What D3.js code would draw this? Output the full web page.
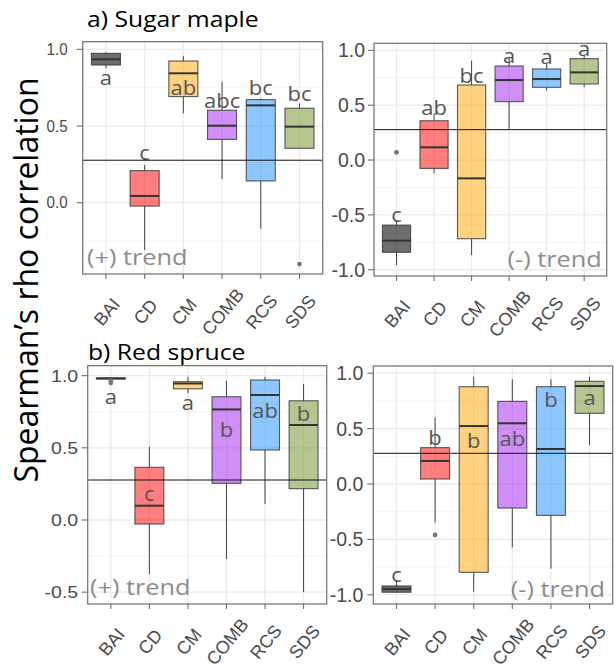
<!DOCTYPE html>
<html>
<head>
<meta charset="utf-8">
<script src="https://cdn.jsdelivr.net/npm/d3@7"></script>
<style>
  body { margin: 0; background: #fff; }
</style>
</head>
<body>
<div class="chart"></div>
<script>
// DATA ------------------------------------
const categories = ["BAI", "CD", "CM", "COMB", "RCS", "SDS"];
const boxColors = ["#000000", "#FF0000", "#FFA500", "#A020F0", "#1E90FF", "#6B8E23"];
const refValue = 0.277;

// each box: [lower whisker, q1, median, q3, upper whisker]
const mapleUpBoxes = [
  [0.877, 0.898, 0.935, 0.974, 0.981],
  [-0.309, -0.022, 0.044, 0.209, 0.246],
  [0.583, 0.692, 0.844, 0.924, 0.957],
  [0.153, 0.413, 0.502, 0.603, 0.789],
  [-0.170, 0.142, 0.635, 0.672, 0.680],
  [0.355, 0.355, 0.496, 0.616, 0.648]
];
const mapleUpOutliers = [[], [], [], [], [], [-0.40]];
const mapleUpLetters = ["a", "c", "ab", "abc", "bc", "bc"];
const mapleUpLetterY = [0.768, 0.279, 0.703, 0.616, 0.703, 0.663];
const mapleUpTicks = [0, 0.5, 1];
const mapleUpDomain = [-0.465, 1.05];

const mapleDownBoxes = [
  [-0.957, -0.841, -0.735, -0.593, -0.547],
  [-0.121, -0.076, 0.116, 0.358, 0.426],
  [-0.866, -0.717, -0.167, 0.684, 0.905],
  [0.283, 0.532, 0.729, 0.857, 0.936],
  [0.632, 0.663, 0.738, 0.830, 0.881],
  [0.663, 0.693, 0.799, 0.924, 0.957]
];
const mapleDownOutliers = [[0.070], [], [], [], [], []];
const mapleDownLetters = ["c", "ab", "bc", "a", "a", "a"];
const mapleDownLetterY = [-0.562, 0.41, 0.705, 0.881, 0.872, 0.948];
const mapleDownTicks = [-1, -0.5, 0, 0.5, 1];
const mapleDownDomain = [-1.057, 1.064];

const spruceUpBoxes = [
  [0.975, 0.978, 0.981, 0.984, 0.990],
  [-0.376, -0.028, 0.099, 0.365, 0.508],
  [0.877, 0.909, 0.946, 0.958, 0.992],
  [-0.270, 0.254, 0.766, 0.854, 0.965],
  [0.111, 0.485, 0.866, 0.970, 0.992],
  [-0.500, 0.217, 0.658, 0.826, 0.942]
];
const spruceUpOutliers = [[0.965, 0.95], [], [], [], [], []];
const spruceUpLetters = ["a", "c", "a", "b", "ab", "b"];
const spruceUpLetterY = [0.803, 0.134, 0.762, 0.577, 0.704, 0.688];
const spruceUpTicks = [-0.5, 0, 0.5, 1];
const spruceUpDomain = [-0.582, 1.069];

const spruceDownBoxes = [
  [-0.980, -0.977, -0.948, -0.920, -0.873],
  [-0.349, 0.045, 0.208, 0.328, 0.602],
  [-0.972, -0.797, 0.523, 0.878, 0.968],
  [-0.572, -0.217, 0.548, 0.746, 0.945],
  [-0.764, -0.283, 0.316, 0.878, 0.945],
  [0.352, 0.638, 0.884, 0.927, 0.968]
];
const spruceDownOutliers = [[], [-0.46], [], [], [], []];
const spruceDownLetters = ["c", "b", "b", "ab", "b", "a"];
const spruceDownLetterY = [-0.882, 0.352, 0.322, 0.343, 0.692, 0.713];
const spruceDownTicks = [-1, -0.5, 0, 0.5, 1];
const spruceDownDomain = [-1.083, 1.065];

// CHART INIT ------------------------------
const W = 616, H = 668;
const svg = d3.select(".chart").append("svg")
    .attr("width", W)
    .attr("height", H);

const textFont = "'Open Sans', sans-serif";
const tickFont = "'Liberation Sans', Arial, sans-serif";

// panel layout (pixels) and the data each one uses
const panels = [
  {x0: 82.7, x1: 322.7, y0: 41.7, y1: 274, tickSize: 16, tickSx: 0.95, tickGap: 15,
   boxes: mapleUpBoxes, outliers: mapleUpOutliers, letters: mapleUpLetters, letterY: mapleUpLetterY,
   ticks: mapleUpTicks, domain: mapleUpDomain, trend: "(+) trend", trendX: 87, trendY: 265, trendAnchor: "start"},
  {x0: 374, x1: 606.7, y0: 43.3, y1: 276, tickSize: 19.5, tickSx: 1, tickGap: 9,
   boxes: mapleDownBoxes, outliers: mapleDownOutliers, letters: mapleDownLetters, letterY: mapleDownLetterY,
   ticks: mapleDownTicks, domain: mapleDownDomain, trend: "(-) trend", trendX: 601.7, trendY: 266.7, trendAnchor: "end"},
  {x0: 87.7, x1: 326.7, y0: 365.7, y1: 604, tickSize: 17, tickSx: 1.15, tickGap: 9.5,
   boxes: spruceUpBoxes, outliers: spruceUpOutliers, letters: spruceUpLetters, letterY: spruceUpLetterY,
   ticks: spruceUpTicks, domain: spruceUpDomain, trend: "(+) trend", trendX: 90, trendY: 595, trendAnchor: "start"},
  {x0: 373.3, x1: 612.7, y0: 366, y1: 604, tickSize: 19.5, tickSx: 1, tickGap: 10,
   boxes: spruceDownBoxes, outliers: spruceDownOutliers, letters: spruceDownLetters, letterY: spruceDownLetterY,
   ticks: spruceDownTicks, domain: spruceDownDomain, trend: "(-) trend", trendX: 605, trendY: 596.7, trendAnchor: "end"}
];

function stretchText(sel, x, y, sx) {
    sel.attr("transform", "translate(" + x + "," + y + ") scale(" + sx + ",1)");
}

// DRAW ONE PANEL --------------------------
function drawPanel(p) {
    const g = svg.append("g");

    const xScale = d3.scalePoint()
        .domain(categories)
        .range([p.x0, p.x1])
        .padding(0.6);
    const step = xScale.step();
    const bw = step * 0.75;

    const yScale = d3.scaleLinear()
        .domain(p.domain)
        .range([p.y1, p.y0]);

    // minor grid at half steps
    const half = (p.ticks[1] - p.ticks[0]) / 2;
    const minor = d3.range(p.ticks[0] - half, p.ticks[p.ticks.length - 1] + half + 1e-9, half * 2)
        .filter(v => v > p.domain[0] && v < p.domain[1]);

    g.append("rect")
        .attr("x", p.x0).attr("y", p.y0)
        .attr("width", p.x1 - p.x0).attr("height", p.y1 - p.y0)
        .attr("fill", "#fff");

    g.selectAll(".minor")
        .data(minor)
        .enter().append("line")
        .attr("x1", p.x0).attr("x2", p.x1)
        .attr("y1", d => yScale(d)).attr("y2", d => yScale(d))
        .attr("stroke", "#f3f3f3").attr("stroke-width", 0.8);

    g.selectAll(".hgrid")
        .data(p.ticks)
        .enter().append("line")
        .attr("x1", p.x0).attr("x2", p.x1)
        .attr("y1", d => yScale(d)).attr("y2", d => yScale(d))
        .attr("stroke", "#ebebeb").attr("stroke-width", 1.3);

    g.selectAll(".vgrid")
        .data(categories)
        .enter().append("line")
        .attr("x1", d => xScale(d)).attr("x2", d => xScale(d))
        .attr("y1", p.y0).attr("y2", p.y1)
        .attr("stroke", "#ebebeb").attr("stroke-width", 1.3);

    // boxes
    const items = categories.map((c, i) => ({cat: c, s: p.boxes[i], color: boxColors[i],
        out: p.outliers[i], letter: p.letters[i], ly: p.letterY[i]}));

    const bx = g.selectAll(".box")
        .data(items)
        .enter().append("g");

    // whiskers
    bx.append("line")
        .attr("x1", d => xScale(d.cat)).attr("x2", d => xScale(d.cat))
        .attr("y1", d => yScale(d.s[3])).attr("y2", d => yScale(d.s[4]))
        .attr("stroke", "#444").attr("stroke-width", 1);
    bx.append("line")
        .attr("x1", d => xScale(d.cat)).attr("x2", d => xScale(d.cat))
        .attr("y1", d => yScale(d.s[1])).attr("y2", d => yScale(d.s[0]))
        .attr("stroke", "#444").attr("stroke-width", 1);

    bx.append("rect")
        .attr("x", d => xScale(d.cat) - bw / 2)
        .attr("width", bw)
        .attr("y", d => yScale(d.s[3]))
        .attr("height", d => Math.max(1, yScale(d.s[1]) - yScale(d.s[3])))
        .attr("fill", d => d.color)
        .attr("fill-opacity", d => d.cat === "BAI" ? 0.57 : 0.5)
        .attr("stroke", "#333")
        .attr("stroke-opacity", 0.8)
        .attr("stroke-width", 1.1);

    bx.append("line")
        .attr("x1", d => xScale(d.cat) - bw / 2).attr("x2", d => xScale(d.cat) + bw / 2)
        .attr("y1", d => yScale(d.s[2])).attr("y2", d => yScale(d.s[2]))
        .attr("stroke", "#333").attr("stroke-width", 2);

    bx.selectAll(".out")
        .data(d => d.out.map(v => ({cat: d.cat, v: v})))
        .enter().append("circle")
        .attr("cx", d => xScale(d.cat))
        .attr("cy", d => yScale(d.v))
        .attr("r", 2.4)
        .attr("fill", "#777");

    // reference line
    g.append("line")
        .attr("x1", p.x0).attr("x2", p.x1)
        .attr("y1", yScale(refValue)).attr("y2", yScale(refValue))
        .attr("stroke", "#111").attr("stroke-width", 1);

    // group letters
    bx.append("text")
        .attr("text-anchor", "middle")
        .attr("font-family", textFont)
        .attr("font-size", 20)
        .attr("fill", "#555")
        .each(function(d) { stretchText(d3.select(this), xScale(d.cat), yScale(d.ly), 1.1); })
        .text(d => d.letter);

    // trend note
    g.append("text")
        .attr("text-anchor", p.trendAnchor)
        .attr("font-family", textFont)
        .attr("font-size", 22)
        .attr("fill", "#8c8c8c")
        .call(stretchText, p.trendX, p.trendY, 1.15)
        .text(p.trend);

    // border
    g.append("rect")
        .attr("x", p.x0).attr("y", p.y0)
        .attr("width", p.x1 - p.x0).attr("height", p.y1 - p.y0)
        .attr("fill", "none")
        .attr("stroke", "#6e6e6e").attr("stroke-width", 1.2);

    // y axis ticks
    g.selectAll(".ytick")
        .data(p.ticks)
        .enter().append("line")
        .attr("x1", p.x0 - 6).attr("x2", p.x0)
        .attr("y1", d => yScale(d)).attr("y2", d => yScale(d))
        .attr("stroke", "#6e6e6e").attr("stroke-width", 1.1);
    g.selectAll(".ylab")
        .data(p.ticks)
        .enter().append("text")
        .attr("text-anchor", "end")
        .attr("dominant-baseline", "central")
        .attr("font-family", tickFont)
        .attr("font-size", p.tickSize)
        .attr("fill", "#4a4a4a")
        .each(function(d) { stretchText(d3.select(this), p.x0 - p.tickGap, yScale(d), p.tickSx); })
        .text(d => d.toFixed(1));

    // x axis ticks
    g.selectAll(".xtick")
        .data(categories)
        .enter().append("line")
        .attr("x1", d => xScale(d)).attr("x2", d => xScale(d))
        .attr("y1", p.y1).attr("y2", p.y1 + 5)
        .attr("stroke", "#6e6e6e").attr("stroke-width", 1.1);
    g.selectAll(".xlab")
        .data(categories)
        .enter().append("text")
        .attr("text-anchor", "middle")
        .attr("dominant-baseline", "central")
        .attr("font-family", tickFont)
        .attr("font-size", 18)
        .attr("fill", "#4a4a4a")
        .attr("transform", d => "translate(" + (xScale(d) + 1) + "," + (p.y1 + 38) + ") rotate(-50)")
        .text(d => d);
}

panels.forEach(drawPanel);

// TITLES ----------------------------------
svg.append("text")
    .attr("font-family", textFont)
    .attr("font-size", 21.5)
    .attr("fill", "#000")
    .call(stretchText, 87, 27, 1.15)
    .text("a) Sugar maple");

svg.append("text")
    .attr("font-family", textFont)
    .attr("font-size", 21.5)
    .attr("fill", "#000")
    .call(stretchText, 88, 360, 1.15)
    .text("b) Red spruce");

svg.append("text")
    .attr("font-family", textFont)
    .attr("font-size", 32)
    .attr("fill", "#000")
    .attr("text-anchor", "middle")
    .attr("transform", "translate(38,280) rotate(-90)")
    .text("Spearman\u2019s rho correlation");
</script>
</body>
</html>
